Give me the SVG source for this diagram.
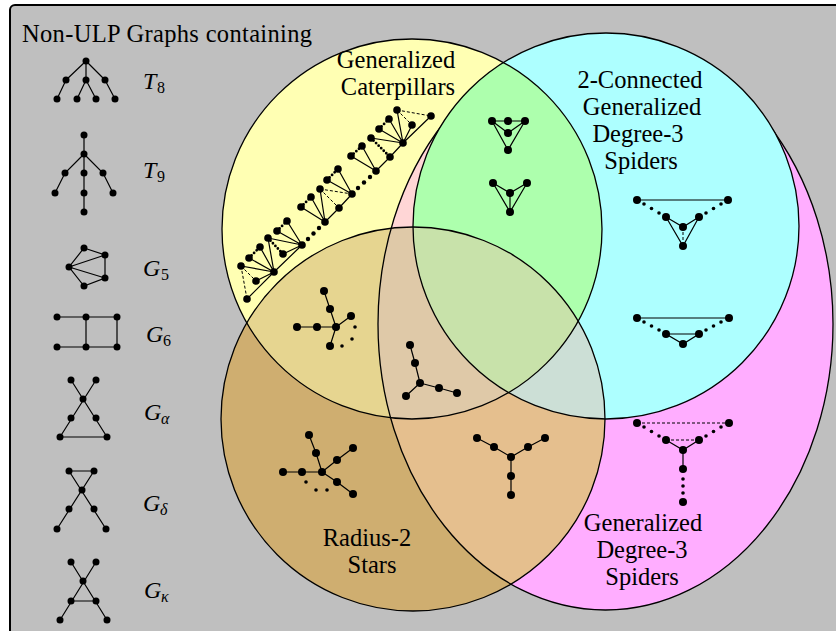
<svg xmlns="http://www.w3.org/2000/svg" width="836" height="631" viewBox="0 0 836 631">
<style>
.ol{fill:none;stroke:#000;stroke-width:1.3}
.e{stroke:#000;stroke-width:1.2;fill:none}
.ds{stroke:#000;stroke-width:1;stroke-dasharray:3 2;fill:none}
.dt{stroke:#000;stroke-width:2.8;stroke-linecap:round;stroke-dasharray:0 3.6;fill:none}
.g circle{fill:#000}
text{fill:#000;font-family:'Liberation Serif','Times New Roman',serif}
.t{font-size:24.5px;text-anchor:middle}
.m{font-size:24px;font-style:italic}
.s{font-size:16px}
</style>
<defs>
<clipPath id="cY"><circle cx="412" cy="229" r="190"/></clipPath>
<clipPath id="cB"><circle cx="413" cy="419" r="192"/></clipPath>
<mask id="mNotC" maskUnits="userSpaceOnUse" x="0" y="0" width="836" height="631">
<rect x="0" y="0" width="836" height="631" fill="#fff"/>
<circle cx="606" cy="226" r="193" fill="#000"/>
</mask>
</defs>
<rect x="0" y="0" width="836" height="631" fill="#fff"/>
<rect id="frame" x="10" y="5" width="840" height="650" rx="5" fill="#bfbfbf" stroke="#000" stroke-width="2"/>
<text x="22" y="42" style="font-size:24.5px" textLength="290">Non-ULP Graphs containing</text>

<g id="sets">
<ellipse cx="605.5" cy="324" rx="227.5" ry="286" fill="#ffadff"/>
<circle cx="606" cy="226" r="193" fill="#adffff"/>
<circle cx="412" cy="229" r="190" fill="#ffffb3"/>
<g clip-path="url(#cY)">
<ellipse cx="605.5" cy="324" rx="227.5" ry="286" fill="#ffd6d6"/>
<circle cx="606" cy="226" r="193" fill="#adffad"/>
</g>
<circle cx="413" cy="419" r="192" fill="#cfae70"/>
<g clip-path="url(#cB)">
<ellipse cx="605.5" cy="324" rx="227.5" ry="286" fill="#e5bf8e"/>
<circle cx="606" cy="226" r="193" fill="#ccdfd6"/>
<circle cx="412" cy="229" r="190" fill="#e6d590"/>
<g clip-path="url(#cY)">
<ellipse cx="605.5" cy="324" rx="227.5" ry="286" fill="#dfc9a8"/>
<circle cx="606" cy="226" r="193" fill="#c8e2aa"/>
</g>
</g>
<ellipse class="ol" cx="605.5" cy="324" rx="227.5" ry="286" mask="url(#mNotC)"/>
<circle class="ol" cx="606" cy="226" r="193"/>
<circle class="ol" cx="412" cy="229" r="190"/>
<circle class="ol" cx="413" cy="419" r="192"/>
</g>

<g id="set-labels">
<text class="t" x="396" y="68">Generalized</text>
<text class="t" x="398" y="95">Caterpillars</text>
<text class="t" x="640" y="88">2-Connected</text>
<text class="t" x="642" y="115">Generalized</text>
<text class="t" x="638" y="142">Degree-3</text>
<text class="t" x="641" y="169">Spiders</text>
<text class="t" x="367" y="546">Radius-2</text>
<text class="t" x="372" y="573">Stars</text>
<text class="t" x="643" y="531">Generalized</text>
<text class="t" x="642" y="558">Degree-3</text>
<text class="t" x="642" y="585">Spiders</text>
</g>

<g id="T8" class="g">
<path class="e" d="M86 61L66 80M86 61L86 80M86 61L105 80M66 80L57 99M86 80L77 99M86 80L96 99M105 80L115 99"/>
<circle cx="86" cy="61" r="3.5"/><circle cx="66" cy="80" r="3.5"/><circle cx="86" cy="80" r="3.5"/><circle cx="105" cy="80" r="3.5"/>
<circle cx="57" cy="99" r="3.5"/><circle cx="77" cy="99" r="3.5"/><circle cx="96" cy="99" r="3.5"/><circle cx="115" cy="99" r="3.5"/>
<text class="m" x="143" y="89">T</text><text class="s" x="157" y="93">8</text>
</g>
<g id="T9" class="g">
<path class="e" d="M84 135L84 212M84 154L65 173L55 193M84 154L103 173L113 193"/>
<circle cx="84" cy="135" r="3.5"/><circle cx="84" cy="154" r="3.5"/><circle cx="65" cy="173" r="3.5"/><circle cx="84" cy="173" r="3.5"/><circle cx="103" cy="173" r="3.5"/>
<circle cx="55" cy="193" r="3.5"/><circle cx="84" cy="193" r="3.5"/><circle cx="113" cy="193" r="3.5"/><circle cx="84" cy="212" r="3.5"/>
<text class="m" x="143" y="178">T</text><text class="s" x="157" y="182">9</text>
</g>
<g id="G5" class="g">
<path class="e" d="M84 248L105 255L105 278L84 286L69 267ZM69 267L105 255M69 267L105 278"/>
<circle cx="84" cy="248" r="3.5"/><circle cx="105" cy="255" r="3.5"/><circle cx="105" cy="278" r="3.5"/><circle cx="84" cy="286" r="3.5"/><circle cx="69" cy="267" r="3.5"/>
<text class="m" x="143" y="276">G</text><text class="s" x="161" y="280">5</text>
</g>
<g id="G6" class="g">
<path class="e" d="M57 317L117 317M57 347L117 347M86 317L86 347M117 317L117 347"/>
<circle cx="57" cy="317" r="3.5"/><circle cx="86" cy="317" r="3.5"/><circle cx="117" cy="317" r="3.5"/>
<circle cx="57" cy="347" r="3.5"/><circle cx="86" cy="347" r="3.5"/><circle cx="117" cy="347" r="3.5"/>
<text class="m" x="146" y="342">G</text><text class="s" x="163" y="346">6</text>
</g>
<g id="Galpha" class="g">
<path class="e" d="M71 380L107 437M96 380L60 437M60 437L107 437"/>
<circle cx="71" cy="380" r="3.5"/><circle cx="96" cy="380" r="3.5"/><circle cx="83" cy="399" r="3.5"/>
<circle cx="71" cy="418" r="3.5"/><circle cx="96" cy="418" r="3.5"/><circle cx="60" cy="437" r="3.5"/><circle cx="107" cy="437" r="3.5"/>
<text class="m" x="144" y="420">G</text><text class="s" x="161" y="424" font-style="italic">α</text>
</g>
<g id="Gdelta" class="g">
<path class="e" d="M69 471L94 471M69 471L106 529M94 471L57 529"/>
<circle cx="69" cy="471" r="3.5"/><circle cx="94" cy="471" r="3.5"/><circle cx="82" cy="490" r="3.5"/>
<circle cx="69" cy="509" r="3.5"/><circle cx="94" cy="509" r="3.5"/><circle cx="57" cy="529" r="3.5"/><circle cx="106" cy="529" r="3.5"/>
<text class="m" x="143" y="511">G</text><text class="s" x="160" y="515" font-style="italic">δ</text>
</g>
<g id="Gkappa" class="g">
<path class="e" d="M71 562L107 620M96 562L60 620M71 601L96 601"/>
<circle cx="71" cy="562" r="3.5"/><circle cx="96" cy="562" r="3.5"/><circle cx="83" cy="581" r="3.5"/>
<circle cx="71" cy="601" r="3.5"/><circle cx="96" cy="601" r="3.5"/><circle cx="60" cy="620" r="3.5"/><circle cx="107" cy="620" r="3.5"/>
<text class="m" x="144" y="598">G</text><text class="s" x="161" y="602" font-style="italic">κ</text>
</g>

<g id="caterpillar" class="g">
<path class="e" d="M274 272L247 299M274 272L256 281M274 272L241 266M274 272L249 258M274 272L260 247M274 272L268 238M274 272L302 245M268 238L302 245M283 254L302 245M277 231L302 245M287 221L302 245"/>
<path class="e" d="M325 222L301 207M325 222L311 197M325 222L320 189M325 222L339 208L352 194M352 194L327 180M352 194L338 169"/>
<path class="e" d="M376 171L351 156M376 171L362 146M376 171L390 157L403 143M403 143L371 138M403 143L379 129M403 143L389 119M403 143L397 110M403 143L412 125M403 143L431 116"/>
<path class="ds" d="M241 266L247 299M241 266L256 281M320 189L352 194M320 189L339 208M397 110L431 116M397 110L412 125"/>
<path class="dt" d="M249 258L260 247M268 238L283 254M277 231L287 221M301 207L311 197M327 180L338 169M351 156L362 146M371 138L390 157M379 129L389 119"/>
<circle cx="247" cy="299" r="3.8"/><circle cx="256" cy="281" r="3.8"/><circle cx="241" cy="266" r="3.8"/><circle cx="249" cy="258" r="3.8"/>
<circle cx="260" cy="247" r="3.8"/><circle cx="268" cy="238" r="3.8"/><circle cx="274" cy="272" r="3.8"/><circle cx="283" cy="254" r="3.8"/>
<circle cx="302" cy="245" r="3.8"/><circle cx="277" cy="231" r="3.8"/><circle cx="287" cy="221" r="3.8"/>
<circle cx="308" cy="239" r="2.2"/><circle cx="313.5" cy="233.5" r="2.2"/><circle cx="319" cy="228" r="2.2"/>
<circle cx="325" cy="222" r="3.8"/><circle cx="301" cy="207" r="3.8"/><circle cx="311" cy="197" r="3.8"/><circle cx="320" cy="189" r="3.8"/>
<circle cx="327" cy="180" r="3.8"/><circle cx="338" cy="169" r="3.8"/><circle cx="339" cy="208" r="3.8"/><circle cx="352" cy="194" r="3.8"/>
<circle cx="358" cy="188" r="2.2"/><circle cx="364" cy="182.5" r="2.2"/><circle cx="370" cy="177" r="2.2"/>
<circle cx="376" cy="171" r="3.8"/><circle cx="351" cy="156" r="3.8"/><circle cx="362" cy="146" r="3.8"/><circle cx="371" cy="138" r="3.8"/>
<circle cx="379" cy="129" r="3.8"/><circle cx="389" cy="119" r="3.8"/><circle cx="397" cy="110" r="3.8"/><circle cx="390" cy="157" r="3.8"/>
<circle cx="403" cy="143" r="3.8"/><circle cx="412" cy="125" r="3.8"/><circle cx="431" cy="116" r="3.8"/>
</g>

<g id="green-a" class="g">
<path class="e" d="M492 121L525 121M492 121L508 150L525 121M492 121L508 133L525 121"/>
<circle cx="492" cy="121" r="4"/><circle cx="508" cy="121" r="4"/><circle cx="525" cy="121" r="4"/><circle cx="508" cy="133" r="4"/><circle cx="508" cy="150" r="4"/>
</g>
<g id="green-b" class="g">
<path class="e" d="M493 183L510 193L527 183M493 183L510 212L527 183M510 193L510 212"/>
<circle cx="493" cy="183" r="4"/><circle cx="527" cy="183" r="4"/><circle cx="510" cy="193" r="4"/><circle cx="510" cy="212" r="4"/>
</g>

<g id="cyan-a" class="g">
<path class="e" d="M637 200L728 200M666 217L683 246L699 217M666 217L683 227L699 217"/>
<path class="ds" d="M683 227L683 246"/>
<circle cx="637" cy="200" r="4"/><circle cx="728" cy="200" r="4"/>
<circle cx="644" cy="204" r="1.8"/><circle cx="651.5" cy="208.5" r="1.8"/><circle cx="659" cy="213" r="1.8"/>
<circle cx="706" cy="213" r="1.8"/><circle cx="713.5" cy="208.5" r="1.8"/><circle cx="721" cy="204" r="1.8"/>
<circle cx="666" cy="217" r="4"/><circle cx="699" cy="217" r="4"/><circle cx="683" cy="227" r="4"/><circle cx="683" cy="246" r="4"/>
</g>
<g id="cyan-b" class="g">
<path class="e" d="M637 318L729 318M666 334L699 334L683 344Z"/>
<circle cx="637" cy="318" r="4"/><circle cx="729" cy="318" r="4"/>
<circle cx="644" cy="322" r="1.8"/><circle cx="651.5" cy="326" r="1.8"/><circle cx="659" cy="330" r="1.8"/>
<circle cx="706" cy="330" r="1.8"/><circle cx="713.5" cy="326" r="1.8"/><circle cx="721" cy="322" r="1.8"/>
<circle cx="666" cy="334" r="4"/><circle cx="699" cy="334" r="4"/><circle cx="683" cy="344" r="4"/>
</g>
<g id="magenta-a" class="g">
<path class="ds" d="M637 423L729 423M666 440L699 440"/>
<path class="e" d="M666 440L683 450L699 440M683 450L683 469"/>
<circle cx="637" cy="423" r="4"/><circle cx="729" cy="423" r="4"/>
<circle cx="644" cy="427" r="1.8"/><circle cx="651.5" cy="431.5" r="1.8"/><circle cx="659" cy="436" r="1.8"/>
<circle cx="706" cy="436" r="1.8"/><circle cx="713.5" cy="431.5" r="1.8"/><circle cx="721" cy="427" r="1.8"/>
<circle cx="666" cy="440" r="4"/><circle cx="699" cy="440" r="4"/><circle cx="683" cy="450" r="4"/><circle cx="683" cy="469" r="4"/>
<circle cx="683" cy="479" r="1.8"/><circle cx="683" cy="486" r="1.8"/><circle cx="683" cy="493" r="1.8"/>
<circle cx="683" cy="502" r="4"/>
</g>
<g id="orange-spider" class="g">
<path class="e" d="M477 438L494 447L511 457L528 447L545 438M511 457L511 495"/>
<circle cx="477" cy="438" r="4"/><circle cx="494" cy="447" r="4"/><circle cx="511" cy="457" r="4"/><circle cx="528" cy="447" r="4"/>
<circle cx="545" cy="438" r="4"/><circle cx="511" cy="476" r="4"/><circle cx="511" cy="495" r="4"/>
</g>
<g id="center-spider" class="g">
<path class="e" d="M420 383L415 363L410 345M420 383L439 388L457 393M420 383L406 396"/>
<circle cx="420" cy="383" r="4"/><circle cx="415" cy="363" r="4"/><circle cx="410" cy="345" r="4"/>
<circle cx="439" cy="388" r="4"/><circle cx="457" cy="393" r="4"/><circle cx="406" cy="396" r="4"/>
</g>
<g id="star-a" class="g">
<path class="e" d="M336 327L330 309L324 291M336 327L297 327M336 327L351 316M336 327L330 346"/>
<circle cx="336" cy="327" r="4"/><circle cx="330" cy="309" r="4"/><circle cx="324" cy="291" r="4"/><circle cx="317" cy="327" r="4"/>
<circle cx="297" cy="327" r="4"/><circle cx="351" cy="316" r="4"/><circle cx="330" cy="346" r="4"/>
<circle cx="355" cy="327" r="1.8"/><circle cx="352" cy="339" r="1.8"/><circle cx="342" cy="346" r="1.8"/>
</g>
<g id="star-b" class="g">
<path class="e" d="M322 472L283 472M322 472L316 453L309 435M322 472L337 460L353 448M322 472L337 482L353 494"/>
<circle cx="322" cy="472" r="4"/><circle cx="302" cy="472" r="4"/><circle cx="283" cy="472" r="4"/><circle cx="316" cy="453" r="4"/>
<circle cx="309" cy="435" r="4"/><circle cx="337" cy="460" r="4"/><circle cx="353" cy="448" r="4"/><circle cx="337" cy="482" r="4"/><circle cx="353" cy="494" r="4"/>
<circle cx="306" cy="482" r="1.8"/><circle cx="316" cy="490" r="1.8"/><circle cx="327" cy="490" r="1.8"/>
</g>
</svg>
